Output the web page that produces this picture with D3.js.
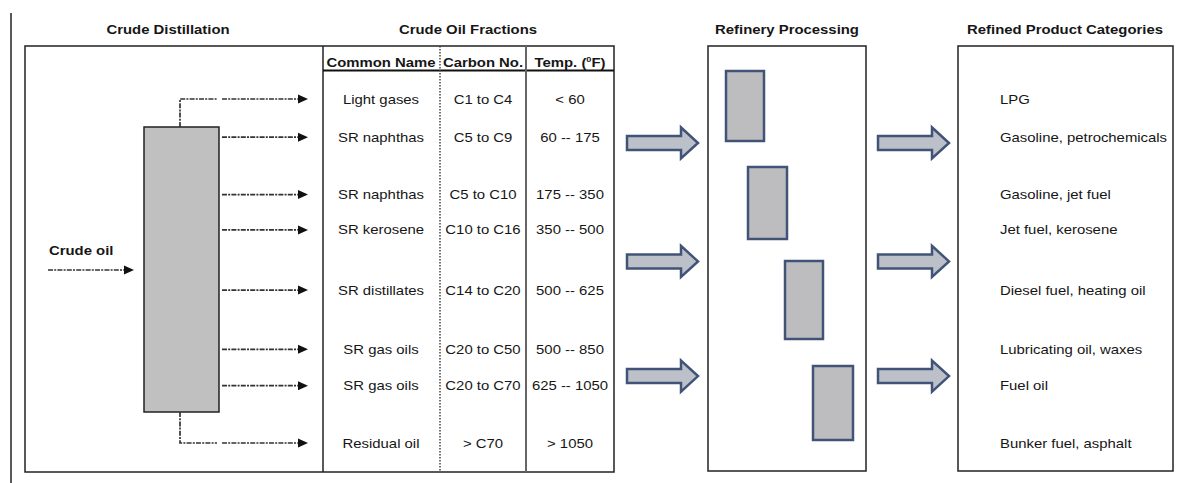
<!DOCTYPE html>
<html>
<head>
<meta charset="utf-8">
<script src="https://cdn.jsdelivr.net/npm/d3@7"></script>
<style>
  html, body { margin: 0; padding: 0; background: #fff; }
  svg { display: block; }
  text { font-family: "Liberation Sans", Arial, sans-serif; fill: #161616; }
</style>
</head>
<body>
<div id="chart"></div>
<script>
// ---------------- DATA ----------------
const sectionTitles = ["Crude Distillation", "Crude Oil Fractions", "Refinery Processing", "Refined Product Categories"];
const tableHeaders = ["Common Name", "Carbon No.", "Temp. (", "0", "F)"];
const fractionNames = ["Light gases", "SR naphthas", "SR naphthas", "SR kerosene", "SR distillates", "SR gas oils", "SR gas oils", "Residual oil"];
const carbonNumbers = ["C1 to C4", "C5 to C9", "C5 to C10", "C10 to C16", "C14 to C20", "C20 to C50", "C20 to C70", "> C70"];
const tempRanges = ["< 60", "60 -- 175", "175 -- 350", "350 -- 500", "500 -- 625", "500 -- 850", "625 -- 1050", "> 1050"];
const productNames = ["LPG", "Gasoline, petrochemicals", "Gasoline, jet fuel", "Jet fuel, kerosene", "Diesel fuel, heating oil", "Lubricating oil, waxes", "Fuel oil", "Bunker fuel, asphalt"];
const feedLabel = "Crude oil";
const processUnits = ["Unit 1", "Unit 2", "Unit 3", "Unit 4"];
const flowGroups = ["Light", "Middle", "Heavy"];

// ---------------- LAYOUT ----------------
const W = 1180, H = 483;
const SX = 1.145;           // horizontal stretch of the original's text
const FS = 13;
const rowSlot = [0, 2, 5, 6.85, 10, 13.1, 15, 18];
const flowSlot = [2.3, 8.5, 14.5];
const y = d3.scaleLinear().domain([0, 18]).range([99, 443]);
const unitBoxes = [
  {x0: 726, x1: 764, y0: 71, y1: 141},
  {x0: 748, x1: 787, y0: 167, y1: 239},
  {x0: 785, x1: 823, y0: 261, y1: 339},
  {x0: 813, x1: 853, y0: 366, y1: 440}
];
const T = 46, B = 472;
const colX = {left: 323, c1: 440, c2: 526, right: 614};
const colCenter = [381, 483, 570];

const svg = d3.select("#chart").append("svg").attr("width", W).attr("height", H);

function txt(x, yy, s, anchor, bold) {
  return svg.append("text")
    .attr("transform", `translate(${x},${yy}) scale(${SX},1)`)
    .attr("text-anchor", anchor || "start")
    .attr("font-size", FS)
    .attr("font-weight", bold ? "bold" : "normal")
    .text(s);
}

// left page rule
svg.append("line").attr("x1", 11).attr("x2", 11).attr("y1", 13).attr("y2", H)
  .attr("stroke", "#222").attr("stroke-width", 1.5);

// section titles
const titleX = [168, 468, 787, 1065];
sectionTitles.forEach((t, i) => txt(titleX[i], 33.5, t, "middle", true));

// boxes
const boxStroke = "#222";
svg.append("rect").attr("x", 25).attr("y", T).attr("width", colX.right - 25).attr("height", B - T)
  .attr("fill", "none").attr("stroke", boxStroke).attr("stroke-width", 1.5);
svg.append("line").attr("x1", colX.left).attr("x2", colX.left).attr("y1", T).attr("y2", B)
  .attr("stroke", boxStroke).attr("stroke-width", 1.5);
svg.append("line").attr("x1", colX.left).attr("x2", colX.right).attr("y1", 70.5).attr("y2", 70.5)
  .attr("stroke", "#111").attr("stroke-width", 2.2);
svg.append("line").attr("x1", colX.c1).attr("x2", colX.c1).attr("y1", T).attr("y2", B)
  .attr("stroke", "#444").attr("stroke-width", 1.5).attr("stroke-dasharray", "1.5,1.5");
svg.append("line").attr("x1", colX.c2).attr("x2", colX.c2).attr("y1", T).attr("y2", B)
  .attr("stroke", "#666").attr("stroke-width", 2);

svg.append("rect").attr("x", 708).attr("y", T).attr("width", 866 - 708).attr("height", 471 - T)
  .attr("fill", "none").attr("stroke", boxStroke).attr("stroke-width", 1.5);
svg.append("rect").attr("x", 958).attr("y", T).attr("width", 1173 - 958).attr("height", 471 - T)
  .attr("fill", "none").attr("stroke", boxStroke).attr("stroke-width", 1.5);

// table header
txt(colCenter[0], 67, tableHeaders[0], "middle", true);
txt(colCenter[1], 67, tableHeaders[1], "middle", true);
const th = txt(colCenter[2], 67, tableHeaders[2], "middle", true);
th.append("tspan").attr("font-size", 8).attr("dy", -5).text(tableHeaders[3]);
th.append("tspan").attr("dy", 5).text(tableHeaders[4]);

// table rows
fractionNames.forEach((d, i) => txt(colCenter[0], y(rowSlot[i]) + 4.5, d, "middle"));
carbonNumbers.forEach((d, i) => txt(colCenter[1], y(rowSlot[i]) + 4.5, d, "middle"));
tempRanges.forEach((d, i) => txt(colCenter[2], y(rowSlot[i]) + 4.5, d, "middle"));

// products
productNames.forEach((d, i) => txt(1000, y(rowSlot[i]) + 4.5, d, "start"));

// distillation column
const colL = 144, colR = 219, colT = 127, colB = 412, colMid = 180;
svg.append("rect").attr("x", colL).attr("y", colT).attr("width", colR - colL).attr("height", colB - colT)
  .attr("fill", "#c0c0c0").attr("stroke", "#222").attr("stroke-width", 1.5);

const dash = "5,1.2,2,1.2";
function flowArrow(x0, x1, yy) {
  svg.append("line").attr("x1", x0).attr("x2", x1 - 8).attr("y1", yy).attr("y2", yy)
    .attr("stroke", "#333").attr("stroke-width", 1.7).attr("stroke-dasharray", dash);
  svg.append("path").attr("d", `M${x1 - 10},${yy - 4.5}L${x1},${yy}L${x1 - 10},${yy + 4.5}Z`).attr("fill", "#111");
}

fractionNames.forEach((d, i) => {
  const yy = y(rowSlot[i]);
  flowArrow(222, 308, yy);
  if (i === 0 || i === fractionNames.length - 1) {
    const yEdge = i === 0 ? colT : colB;
    svg.append("path").attr("d", `M${colMid},${yEdge}V${yy}H217`)
      .attr("fill", "none").attr("stroke", "#333").attr("stroke-width", 1.7).attr("stroke-dasharray", dash);
  }
});

// crude oil feed
txt(49, 254.5, feedLabel, "start", true);
flowArrow(48, 134, 270);

// refinery units
unitBoxes.forEach(b => {
  svg.append("rect").attr("x", b.x0).attr("y", b.y0).attr("width", b.x1 - b.x0).attr("height", b.y1 - b.y0)
    .attr("fill", "#bdbdbf").attr("stroke", "#415478").attr("stroke-width", 2.5);
});

// block arrows
function blockArrow(x0, yy) {
  const shaft = 54, len = 71, sh = 7, hh = 15.5;
  const p = `M${x0},${yy - sh}H${x0 + shaft}V${yy - hh}L${x0 + len},${yy}L${x0 + shaft},${yy + hh}V${yy + sh}H${x0}Z`;
  svg.append("path").attr("d", p).attr("fill", "#bcc0c8").attr("stroke", "#415478").attr("stroke-width", 2.5)
    .attr("stroke-linejoin", "miter");
}
flowGroups.forEach((g, i) => {
  blockArrow(627, y(flowSlot[i]));
  blockArrow(878, y(flowSlot[i]));
});
</script>
</body>
</html>
